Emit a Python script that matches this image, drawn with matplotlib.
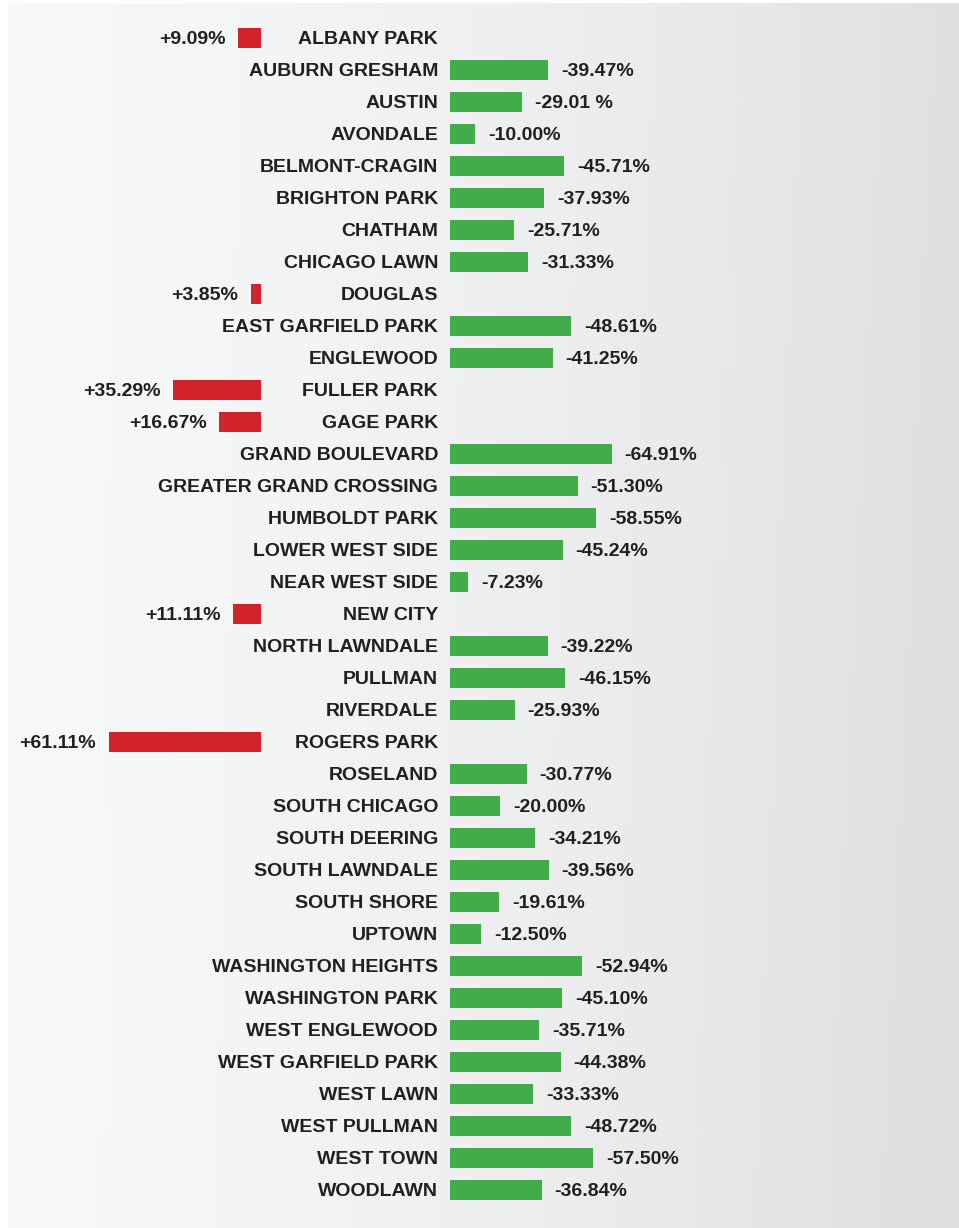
import numpy as np
import matplotlib
matplotlib.use("Agg")
import matplotlib.pyplot as plt
from matplotlib.colors import LinearSegmentedColormap

plt.rcParams["font.family"] = ["Liberation Sans", "DejaVu Sans"]

areas = [
    "ALBANY PARK", "AUBURN GRESHAM", "AUSTIN", "AVONDALE", "BELMONT-CRAGIN",
    "BRIGHTON PARK", "CHATHAM", "CHICAGO LAWN", "DOUGLAS", "EAST GARFIELD PARK",
    "ENGLEWOOD", "FULLER PARK", "GAGE PARK", "GRAND BOULEVARD",
    "GREATER GRAND CROSSING", "HUMBOLDT PARK", "LOWER WEST SIDE", "NEAR WEST SIDE",
    "NEW CITY", "NORTH LAWNDALE", "PULLMAN", "RIVERDALE", "ROGERS PARK", "ROSELAND",
    "SOUTH CHICAGO", "SOUTH DEERING", "SOUTH LAWNDALE", "SOUTH SHORE", "UPTOWN",
    "WASHINGTON HEIGHTS", "WASHINGTON PARK", "WEST ENGLEWOOD", "WEST GARFIELD PARK",
    "WEST LAWN", "WEST PULLMAN", "WEST TOWN", "WOODLAWN",
]
change = [
    9.09, -39.47, -29.01, -10.00, -45.71,
    -37.93, -25.71, -31.33, 3.85, -48.61,
    -41.25, 35.29, 16.67, -64.91,
    -51.30, -58.55, -45.24, -7.23,
    11.11, -39.22, -46.15, -25.93, 61.11, -30.77,
    -20.00, -34.21, -39.56, -19.61, -12.50,
    -52.94, -45.10, -35.71, -44.38,
    -33.33, -48.72, -57.50, -36.84,
]
label_override = {"AUSTIN": "-29.01 %"}

GREEN = "#41ad49"
RED = "#d2232a"
TEXT = "#231f20"

W, H = 959, 1228
px_per_unit = 2.49          # pixels per percentage point
zero_px = 450               # left edge of decrease bars
red_end_px = 261            # right edge of increase bars
row0_px, row_step = 38, 32.0

fig = plt.figure(figsize=(W / 100, H / 100), dpi=100, facecolor="white")

# background gradient
bg = fig.add_axes([8 / W, 0, 1 - 8 / W, 1 - 3 / H])
gx = np.linspace(0, 1, 256)
gy = np.linspace(0, 1, 64)[:, None]
grad = gx[None, :] ** 1.4 * 0.92 + gy * 0.08 * gx[None, :]
cmap = LinearSegmentedColormap.from_list("bg", ["#f7f8f8", "#ececee", "#dedee1"])
bg.imshow(grad, aspect="auto", cmap=cmap, extent=[0, 1, 0, 1], origin="upper")
bg.axis("off")

ax = fig.add_axes([0, 0, 1, 1])
ax.set_facecolor("none")
ax.set_xlim(-zero_px / px_per_unit, (W - zero_px) / px_per_unit)
ax.set_ylim((H - row0_px) / row_step, -row0_px / row_step)
ax.axis("off")

red_off = (zero_px - red_end_px) / px_per_unit
gap = 13 / px_per_unit
name_x = -12 / px_per_unit
txt = dict(va="center_baseline", fontsize=14, fontweight="bold", color=TEXT)

for i, (name, v) in enumerate(zip(areas, change)):
    lab = label_override.get(name, f"{v:+.2f}%")
    ax.text(name_x, i, name, ha="right", **txt)
    if v < 0:
        ax.barh(i, -v, left=0, height=0.625, color=GREEN)
        ax.text(-v + gap, i, lab, ha="left", **txt)
    else:
        ax.barh(i, v, left=-red_off - v, height=0.625, color=RED)
        ax.text(-red_off - v - gap, i, lab, ha="right", **txt)

fig.savefig("out.png", dpi=100, facecolor="white")
